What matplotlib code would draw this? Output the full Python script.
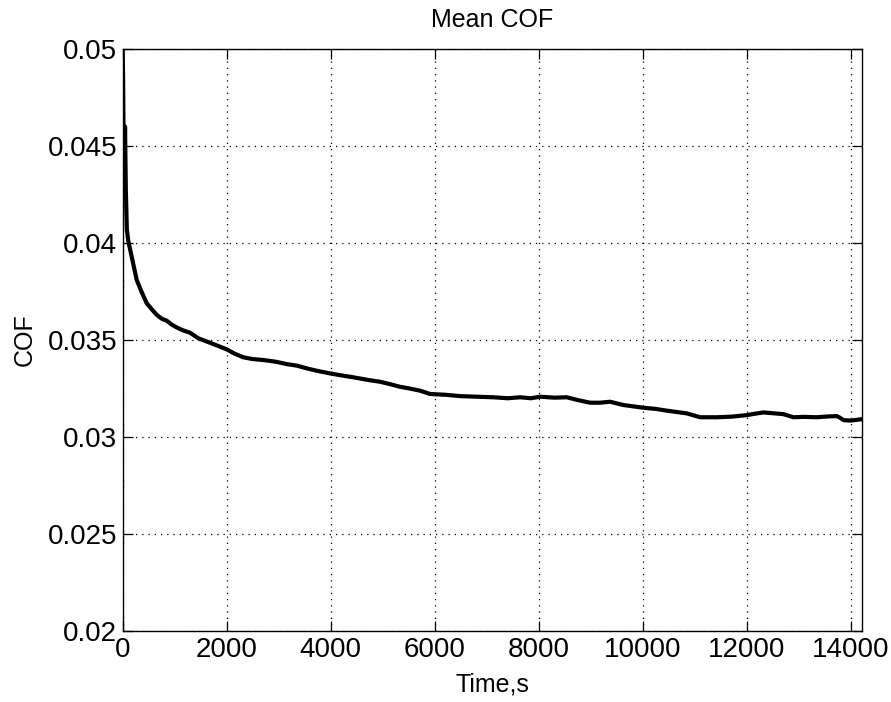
import numpy as np
import matplotlib
matplotlib.use("Agg")
import matplotlib.pyplot as plt

# values
time_s = [0, 8, 15, 22, 30, 38, 45, 52, 60, 80, 108, 173, 269, 361, 461, 554, 654,
          750, 846, 940, 1038, 1160, 1294, 1454, 1679, 1850, 2000, 2150, 2320,
          2500, 2704, 2950, 3154, 3350, 3538, 3760, 3987, 4200, 4435, 4723,
          4948, 5150, 5333, 5520, 5717, 5910, 6200, 6487, 6800, 7127, 7400,
          7640, 7850, 8025, 8300, 8538, 8760, 8987, 9179, 9371, 9627, 10012,
          10250, 10462, 10846, 11102, 11423, 11700, 12000, 12150, 12320,
          12704, 12897, 13100, 13346, 13550, 13731, 13800, 13859, 14000, 14179, 14220]
cof = [0.0500, 0.0485, 0.0462, 0.0440, 0.0425, 0.0438, 0.0460, 0.0445, 0.0428,
       0.0407, 0.0401, 0.0393, 0.0381, 0.0375, 0.0369, 0.0366, 0.0363,
       0.0361, 0.0360, 0.0358, 0.03565, 0.0355, 0.03538, 0.03509, 0.03486,
       0.03468, 0.03452, 0.03430, 0.03411, 0.03402, 0.03397, 0.03388, 0.03376,
       0.03368, 0.03354, 0.03340, 0.03328, 0.03318, 0.03308, 0.03294,
       0.03285, 0.03272, 0.03259, 0.03250, 0.03239, 0.03222, 0.03218,
       0.03211, 0.03208, 0.03205, 0.03200, 0.03205, 0.03200, 0.03208,
       0.03203, 0.03205, 0.03190, 0.03177, 0.03177, 0.03182, 0.03165,
       0.03151, 0.03145, 0.03136, 0.03122, 0.03102, 0.03102, 0.03105,
       0.03113, 0.03120, 0.03127, 0.03118, 0.03102, 0.03104, 0.03102,
       0.03106, 0.03108, 0.03098, 0.03087, 0.03085, 0.03091, 0.03092]

x_ticks = [0, 2000, 4000, 6000, 8000, 10000, 12000, 14000]
y_ticks = [0.02, 0.025, 0.03, 0.035, 0.04, 0.045, 0.05]
y_labels = ["0.02", "0.025", "0.03", "0.035", "0.04", "0.045", "0.05"]

plt.rcParams['font.family'] = ['Liberation Sans', 'DejaVu Sans']

fig = plt.figure(figsize=(8.91, 7.02), dpi=100)
ax = fig.add_axes([0.1377, 0.1011, 0.8301, 0.829])

ax.plot(time_s, cof, color='black', lw=3.0)

ax.set_xlim(0, 14220)
ax.set_ylim(0.02, 0.05)
ax.set_xticks(x_ticks)
ax.set_xticklabels([str(t) for t in x_ticks])
ax.set_yticks(y_ticks)
ax.set_yticklabels(y_labels)

ax.grid(True, color='black', linestyle=(0, (1, 4)), linewidth=0.9)
ax.tick_params(direction='in', length=7, width=0.9, top=True, right=True,
               labelsize=20, pad=4)
for s in ax.spines.values():
    s.set_linewidth(1.0)

ax.set_title("Mean COF", fontsize=18, pad=16)
ax.set_xlabel("Time,s", fontsize=18, labelpad=7)
ax.set_ylabel("COF", fontsize=18, labelpad=8)

fig.savefig("out.png", dpi=100)
